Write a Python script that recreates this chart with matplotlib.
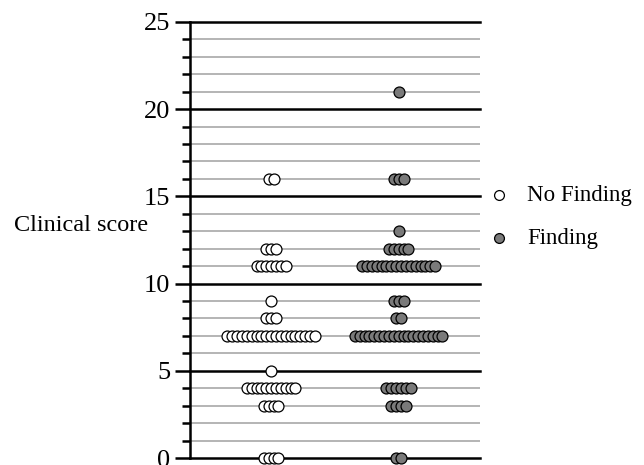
import matplotlib
matplotlib.use("Agg")
import matplotlib.pyplot as plt
import numpy as np

plt.rcParams["font.family"] = ["Liberation Serif", "DejaVu Serif"]

# clinical score -> number of patients at that score
no_finding_scores = [0, 3, 4, 5, 7, 8, 9, 11, 12, 16]
no_finding_counts = [4, 4, 11, 1, 19, 3, 1, 7, 3, 2]
finding_scores = [0, 3, 4, 7, 8, 9, 11, 12, 13, 16, 21]
finding_counts = [2, 4, 6, 19, 2, 3, 16, 5, 1, 3, 1]

groups = [
    ("No Finding", no_finding_scores, no_finding_counts, "white", 0.28),
    ("Finding", finding_scores, finding_counts, "#7a7a7a", 0.72),
]
STEP = 0.0168  # horizontal spacing of points in a row

fig = plt.figure(figsize=(6.44, 4.65), dpi=100)
ax = fig.add_axes([0.295, 0.015, 0.45, 0.938])

for name, scores, counts, color, cx in groups:
    xs, ys = [], []
    for s, n in zip(scores, counts):
        off = (np.arange(n) - (n - 1) / 2) * STEP
        xs.extend(cx + off)
        ys.extend([s] * n)
    ax.scatter(xs, ys, s=62, facecolor=color, edgecolor="black", linewidth=0.9,
               zorder=3, clip_on=False, label=name)

ax.set_xlim(0, 1)
ax.set_ylim(0, 25)

for v in range(0, 26):
    if v % 5 == 0:
        ax.axhline(v, color="black", lw=1.8, zorder=1, clip_on=False)
    else:
        ax.axhline(v, color="#a0a0a0", lw=1.1, zorder=1)

for sp in ["top", "right", "bottom"]:
    ax.spines[sp].set_visible(False)
ax.spines["left"].set_linewidth(1.8)
ax.set_xticks([])
ax.set_yticks(range(0, 26, 5))
ax.set_yticks(range(0, 26), minor=True)
ax.tick_params(axis="y", which="major", length=11, width=1.8, labelsize=19, pad=3)
ax.tick_params(axis="y", which="minor", length=6, width=1.8)

fig.text(0.022, 0.515, "Clinical score", fontsize=17.5, va="center", ha="left")

ax.legend(loc="center left", bbox_to_anchor=(0.957, 0.553), frameon=False,
          fontsize=16.5, handlelength=1.0, handletextpad=0.7, labelspacing=0.95,
          markerscale=0.9, scatterpoints=1)

fig.savefig("out.png", dpi=100)
